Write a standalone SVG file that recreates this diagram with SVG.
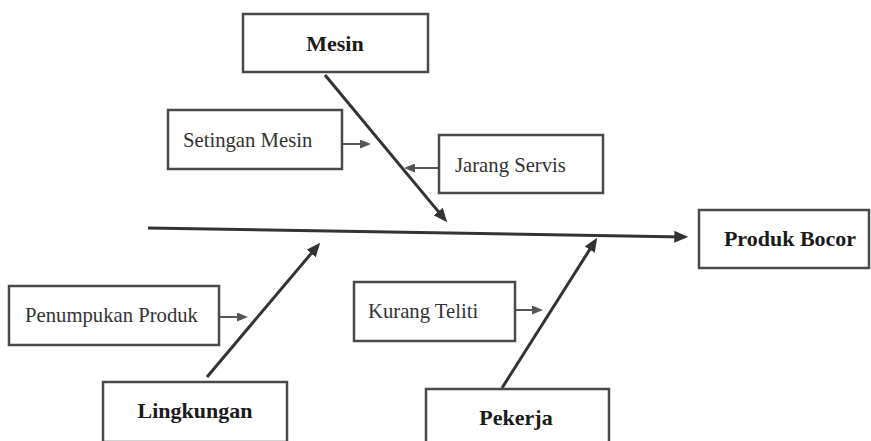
<svg xmlns="http://www.w3.org/2000/svg" width="871" height="441" viewBox="0 0 871 441">
<style>
.box{fill:#fff;stroke:#4a4a4a;stroke-width:2.5}
.cat{font-family:"Liberation Serif","Times New Roman",serif;font-weight:bold;font-size:22px;fill:#1a1a1a;text-anchor:middle}
.cause{font-family:"Liberation Serif","Times New Roman",serif;font-size:20.7px;fill:#333}
.bone{stroke:#333;stroke-width:3;fill:none}
.small{stroke:#555;stroke-width:2;fill:none}
</style>
<defs>
<marker id="big" markerUnits="userSpaceOnUse" markerWidth="14" markerHeight="12" viewBox="0 0 13 11" refX="9" refY="5.5" orient="auto">
<path d="M0,0 L13,5.5 L0,11 z" fill="#333"/>
</marker>
<marker id="sm" markerUnits="userSpaceOnUse" markerWidth="11" markerHeight="9" viewBox="0 0 11 9" refX="7" refY="4.5" orient="auto">
<path d="M0,0 L11,4.5 L0,9 z" fill="#555"/>
</marker>
</defs>
<g id="connectors">
<line class="bone" x1="148" y1="228" x2="684" y2="236.9" marker-end="url(#big)"/>
<line class="bone" x1="325" y1="75" x2="444.4" y2="218.9" marker-end="url(#big)"/>
<line class="bone" x1="207" y1="377" x2="317.4" y2="246.1" marker-end="url(#big)"/>
<line class="bone" x1="502" y1="388" x2="594.9" y2="241.4" marker-end="url(#big)"/>
<line class="small" x1="342" y1="144" x2="367" y2="144" marker-end="url(#sm)"/>
<line class="small" x1="443" y1="168" x2="408" y2="168" marker-end="url(#sm)"/>
<line class="small" x1="219" y1="317" x2="244" y2="317" marker-end="url(#sm)"/>
<line class="small" x1="515" y1="310" x2="539" y2="310" marker-end="url(#sm)"/>
</g>
<g id="mesin"><rect class="box" x="243" y="14" width="185" height="58"/><text class="cat" x="335" y="51">Mesin</text></g>
<g id="produk-bocor"><rect class="box" x="699" y="210" width="170" height="58"/><text class="cat" x="790" y="246">Produk Bocor</text></g>
<g id="lingkungan"><rect class="box" x="103" y="382" width="184" height="60"/><text class="cat" x="195" y="418">Lingkungan</text></g>
<g id="pekerja"><rect class="box" x="426" y="389" width="183" height="60"/><text class="cat" x="516" y="425">Pekerja</text></g>
<g id="setingan-mesin"><rect class="box" x="168" y="110" width="174" height="59"/><text class="cause" x="183" y="147">Setingan Mesin</text></g>
<g id="jarang-servis"><rect class="box" x="439" y="135" width="164" height="58"/><text class="cause" x="455" y="172">Jarang Servis</text></g>
<g id="penumpukan-produk"><rect class="box" x="9" y="286" width="210" height="59"/><text class="cause" x="25" y="322">Penumpukan Produk</text></g>
<g id="kurang-teliti"><rect class="box" x="354" y="282" width="161" height="59"/><text class="cause" x="368" y="318">Kurang Teliti</text></g>
</svg>
